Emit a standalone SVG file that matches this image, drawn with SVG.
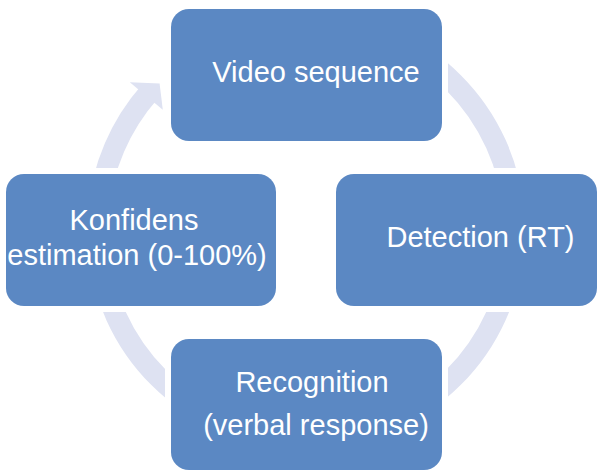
<svg xmlns="http://www.w3.org/2000/svg" width="597" height="470" viewBox="0 0 597 470">
  <style>
    .ring { fill: none; stroke: #dee2f2; stroke-width: 21; }
    .head { fill: #dee2f2; }
    .halo { fill: #ffffff; }
    .box { fill: #5b88c3; }
    .lbl { fill: #ffffff; font-family: "Liberation Sans", Arial, sans-serif; font-size: 29px; text-anchor: middle; }
  </style>
  <rect width="597" height="470" fill="#ffffff"/>
  <g id="connectors">
    <path class="ring" d="M 324.2 22.3 A 208.5 208.5 0 0 1 513.7 211.8"/>
    <path class="ring" d="M 513.7 248.2 A 208.5 208.5 0 0 1 324.2 437.7"/>
    <path class="ring" d="M 287.8 437.7 A 208.5 208.5 0 0 1 98.3 248.2"/>
    <path class="ring" d="M 98.3 211.8 A 208.5 208.5 0 0 1 149.8 91.8"/>
    <polygon class="head" points="129.8,82.2 159.6,83.6 162.8,109.8"/>
  </g>
  <g id="node-video">
    <rect class="halo" x="165" y="3" width="283" height="144" rx="24"/>
    <rect class="box" x="171" y="9" width="271" height="132" rx="18"/>
    <text class="lbl" x="316" y="82">Video sequence</text>
  </g>
  <g id="node-detection">
    <rect class="halo" x="330" y="168" width="273" height="144" rx="24"/>
    <rect class="box" x="336" y="174" width="261" height="132" rx="18"/>
    <text class="lbl" x="480.5" y="247">Detection (RT)</text>
  </g>
  <g id="node-recognition">
    <rect class="halo" x="165" y="333" width="283" height="143" rx="24"/>
    <rect class="box" x="171" y="339" width="271" height="131" rx="18"/>
    <text class="lbl" x="312" y="392">Recognition</text>
    <text class="lbl" x="316" y="435">(verbal response)</text>
  </g>
  <g id="node-konfidens">
    <rect class="halo" x="0" y="168" width="282" height="144" rx="24"/>
    <rect class="box" x="6" y="174" width="270" height="132" rx="18"/>
    <text class="lbl" x="134" y="230">Konfidens</text>
    <text class="lbl" x="137" y="265">estimation (0-100%)</text>
  </g>
</svg>
